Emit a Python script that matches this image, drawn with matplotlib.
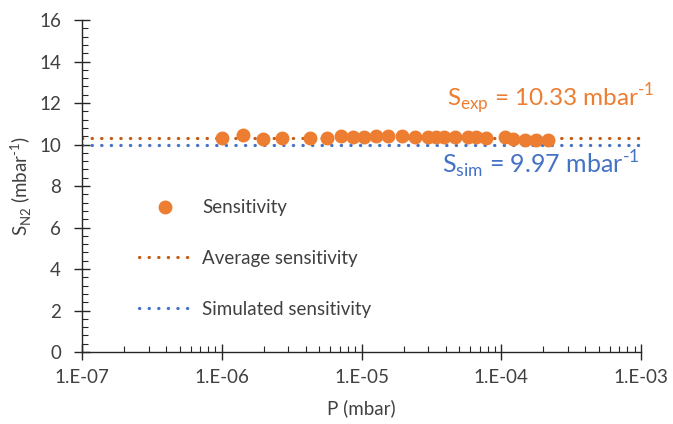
import numpy as np
import matplotlib.pyplot as plt
from matplotlib.ticker import FixedLocator, MultipleLocator, LogLocator, NullFormatter

plt.rcParams['font.family'] = ['Lato', 'DejaVu Sans']
plt.rcParams['mathtext.fontset'] = 'custom'
plt.rcParams['mathtext.rm'] = 'Lato'

# Messpunkte: Druck (mbar) und gemessene Empfindlichkeit (1/mbar)
p_mess = [1.0e-6, 1.42e-6, 1.97e-6, 2.70e-6, 4.28e-6, 5.67e-6, 7.13e-6, 8.69e-6,
          1.04e-5, 1.27e-5, 1.55e-5, 1.95e-5, 2.42e-5, 2.99e-5, 3.41e-5, 3.89e-5,
          4.67e-5, 5.78e-5, 6.59e-5, 7.78e-5, 1.06e-4, 1.21e-4, 1.48e-4, 1.77e-4, 2.16e-4]
s_mess = [10.30, 10.48, 10.26, 10.32, 10.30, 10.32, 10.42, 10.38,
          10.38, 10.42, 10.42, 10.40, 10.38, 10.36, 10.36, 10.36,
          10.38, 10.34, 10.34, 10.32, 10.34, 10.26, 10.24, 10.22, 10.22]

S_EXP = 10.33
S_SIM = 9.97
p_bereich = [1e-7, 1e-3]

x_ticks = [1e-7, 1e-6, 1e-5, 1e-4, 1e-3]
x_ticklabels = ['1.E-07', '1.E-06', '1.E-05', '1.E-04', '1.E-03']
y_ticks = [0, 2, 4, 6, 8, 10, 12, 14, 16]

c_punkte = '#ED7D31'
c_mittel = '#C55A11'
c_sim = '#4472C4'
c_text = '#404040'

fig = plt.figure(figsize=(6.73, 4.24), dpi=100)
ax = fig.add_axes([0.1218, 0.1698, 0.8307, 0.783])

ax.set_xscale('log')
ax.plot(p_mess, s_mess, 'o', color=c_punkte, markersize=9, label='Sensitivity', zorder=3)
ax.plot(p_bereich, [S_EXP, S_EXP], color=c_mittel, linewidth=2.3,
        linestyle=(0, (0.1, 2.9)), dash_capstyle='round', label='Average sensitivity', zorder=2)
ax.plot(p_bereich, [S_SIM, S_SIM], color=c_sim, linewidth=2.3,
        linestyle=(0, (0.1, 2.9)), dash_capstyle='round', label='Simulated sensitivity', zorder=2)

ax.set_xlim(1e-7, 1e-3)
ax.set_ylim(0, 16)

# Achsen im Excel-Stil
for s in ['top', 'right']:
    ax.spines[s].set_visible(False)
for s in ['left', 'bottom']:
    ax.spines[s].set_color('#262626')
    ax.spines[s].set_linewidth(1.0)

ax.xaxis.set_major_locator(FixedLocator(x_ticks))
ax.set_xticklabels(x_ticklabels)
ax.xaxis.set_minor_locator(LogLocator(base=10, subs=np.arange(2, 10)))
ax.xaxis.set_minor_formatter(NullFormatter())
ax.yaxis.set_major_locator(FixedLocator(y_ticks))
ax.yaxis.set_minor_locator(MultipleLocator(0.4))

ax.tick_params(which='major', direction='inout', length=12, width=1.0, color='#262626',
               labelsize=13.5, labelcolor=c_text)
ax.tick_params(which='minor', direction='in', length=4, width=0.8, color='#262626')
ax.tick_params(axis='x', which='major', pad=6)
ax.tick_params(axis='y', which='major', pad=9)

ax.set_xlabel('P (mbar)', fontsize=13.5, color=c_text, labelpad=10)
ax.set_ylabel(r'S$_{\mathregular{N2}}$ (mbar$^{\text{-1}}$)', fontsize=13.5,
              color=c_text, labelpad=4)

# Werte als Beschriftung
ax.text(0.664, 0.765, r'S$_{\mathregular{exp}}$ = 10.33 mbar$^{\text{-1}}$',
        transform=fig.transFigure, fontsize=17.5, color=c_punkte, va='center', ha='left')
ax.text(0.657, 0.612, r'S$_{\mathregular{sim}}$ = 9.97 mbar$^{\text{-1}}$',
        transform=fig.transFigure, fontsize=18, color=c_sim, va='center', ha='left')

ax.legend(loc='upper left', bbox_to_anchor=(0.181, 0.57), bbox_transform=fig.transFigure,
          frameon=False, fontsize=13.5, handlelength=2.8, handletextpad=0.6,
          labelspacing=1.8, labelcolor=c_text)

fig.savefig('out.png', dpi=100)
